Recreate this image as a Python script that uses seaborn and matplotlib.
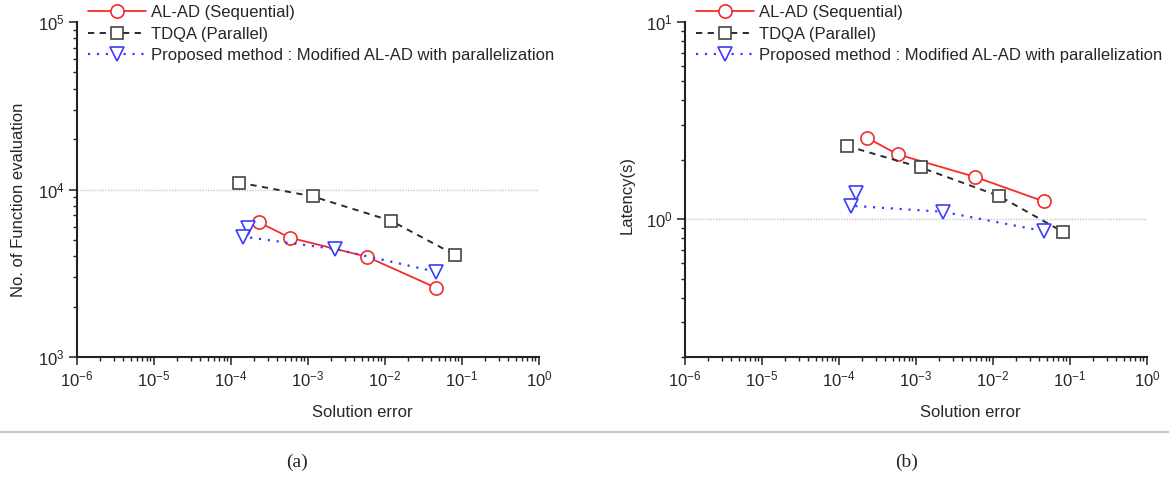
import matplotlib
matplotlib.use("Agg")
import matplotlib.pyplot as plt
from matplotlib.lines import Line2D
import seaborn as sns
import pandas as pd

# ---- data ----
al_ad_err = [2.3e-4, 5.8e-4, 5.8e-3, 0.046]
tdqa_err = [1.27e-4, 1.15e-3, 0.012, 0.082]
prop_err = [1.65e-4, 1.42e-4, 2.25e-3, 0.0455]

al_ad_feval = [6370, 5160, 3970, 2590]
tdqa_feval = [11000, 9100, 6500, 4060]
prop_feval = [5920, 5230, 4410, 3230]

al_ad_lat = [2.59, 2.13, 1.64, 1.23]
tdqa_lat = [2.35, 1.83, 1.31, 0.86]
prop_lat = [1.35, 1.17, 1.09, 0.87]

labels = ["AL-AD (Sequential)", "TDQA (Parallel)",
          "Proposed method : Modified AL-AD with parallelization"]
xlabel = "Solution error"
ylabels = ["No. of Function evaluation", "Latency(s)"]
captions = ["(a)", "(b)"]

sns.set_style("ticks")
plt.rcParams["font.family"] = ["Liberation Sans", "DejaVu Sans"]
plt.rcParams["mathtext.fontset"] = "custom"
plt.rcParams["mathtext.rm"] = "Liberation Sans"
plt.rcParams["axes.unicode_minus"] = False

W, H = 1169, 478
fig = plt.figure(figsize=(W / 100, H / 100), dpi=100)

def fx(px):
    return px / W

def fy(py):
    return 1 - py / H

top, bot = 22, 357
ax1 = fig.add_axes([fx(77), fy(bot), (539 - 77) / W, (bot - top) / H])
ax2 = fig.add_axes([fx(685), fy(bot), (1147 - 685) / W, (bot - top) / H])

styles = [
    dict(color="#f22c2c", linestyle="-", marker="o", markersize=9.5,
         markerfacecolor="white", markeredgecolor="#f22c2c", linewidth=1.3),
    dict(color="#2a2a2a", linestyle=(0, (3.2, 2.8)), marker="s", markersize=8,
         markerfacecolor="white", markeredgecolor="#444444", linewidth=1.4),
    dict(color="#3b3bff", linestyle=(0, (1, 3)), marker="v", markersize=10,
         markerfacecolor="white", markeredgecolor="#3b3bff", linewidth=1.6),
]

def draw(ax, ys, ylim, hline):
    errs = [al_ad_err, tdqa_err, prop_err]
    for i, (xs, yv) in enumerate(zip(errs, ys)):
        df = pd.DataFrame({"x": xs, "y": yv})
        sns.lineplot(data=df, x="x", y="y", ax=ax, sort=False, estimator=None,
                     label=labels[i], markeredgewidth=1.2, **styles[i])
    ax.set_xscale("log")
    ax.set_yscale("log")
    ax.set_xlim(1e-6, 1)
    ax.set_ylim(*ylim)
    ax.axhline(hline, color="#c8c8c8", linestyle=(0, (1, 1)), linewidth=1, zorder=0)
    for s in ["top", "right"]:
        ax.spines[s].set_visible(False)
    for s in ["left", "bottom"]:
        ax.spines[s].set_linewidth(1.5)
        ax.spines[s].set_color("#222222")
    ax.tick_params(which="major", direction="out", length=6, width=1.1,
                   labelsize=12, color="#222222", pad=3)
    ax.tick_params(which="minor", direction="out", length=3, width=1.0,
                   color="#222222")
    ax.set_xlabel(xlabel, fontsize=12)
    ax.xaxis.set_label_coords(0.617, -0.143)
    ax.get_legend().remove()

draw(ax1, [al_ad_feval, tdqa_feval, prop_feval], (1e3, 1e5), 1e4)
draw(ax2, [al_ad_lat, tdqa_lat, prop_lat], (0.2, 10), 1.0)

ax1.set_ylabel(ylabels[0], fontsize=12)
ax1.yaxis.set_label_coords(-0.11, 0.5 - (200 - (top + bot) / 2) / (bot - top))
ax2.set_ylabel(ylabels[1], fontsize=12)
ax2.yaxis.set_label_coords(-0.108, 0.5 - (195 - (top + bot) / 2) / (bot - top))

for ax, x0 in [(ax1, 88), (ax2, 696)]:
    h, l = ax.get_legend_handles_labels()
    fig.legend(h, l, loc="upper left", bbox_to_anchor=(fx(x0), fy(5)),
               bbox_transform=fig.transFigure, frameon=False, fontsize=12,
               borderpad=0, borderaxespad=0, handlelength=3.5,
               handletextpad=0.3, labelspacing=0.4)

fig.add_artist(Line2D([0, 1], [fy(432), fy(432)], transform=fig.transFigure,
                      color="#c8c8c8", linewidth=1.5))
fig.text(fx(297), fy(462), captions[0], fontsize=14, ha="center", va="center",
         family=["Liberation Serif"])
fig.text(fx(907), fy(462), captions[1], fontsize=14, ha="center", va="center",
         family=["Liberation Serif"])

fig.savefig("out.png", dpi=100)
